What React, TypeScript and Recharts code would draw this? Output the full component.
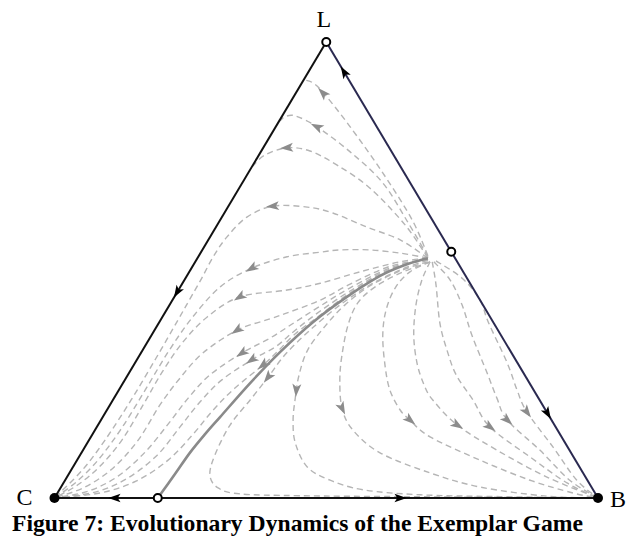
import React from 'react';
import { ComposedChart, Line, Scatter, XAxis, YAxis } from 'recharts';

type Pt = [number, number];
type Dir = [number, number, number, number];

const W = 627;
const H = 537;
const MARGIN = { top: 42, right: 29, bottom: 39, left: 54.5 };
const PX_PER_X = (W - MARGIN.left - MARGIN.right) / 100;
const PX_PER_Y = (H - MARGIN.top - MARGIN.bottom) / 100;

// Simplex in plane coordinates: C bottom-left, B bottom-right, L apex
const cornerC: Pt = [0, 0];
const cornerB: Pt = [100, 0];
const cornerL: Pt = [50, 100];
const restLB: Pt = [73.0, 54.0];
const restCB: Pt = [19.0, 0];
const cornerNames = ['L', 'C', 'B'];

// Boundary edges of the simplex
const edgeLC: Pt[] = [cornerL, cornerC];
const edgeLB: Pt[] = [cornerL, cornerB];
const edgeCB: Pt[] = [cornerC, cornerB];

// Separatrix running into the rest point on C–B
const separatrix: Pt[] = [
  [19.0, 0], [22.2, 5.3], [24.9, 9.9], [27.7, 14.0], [30.5, 17.8], [36.0, 25.2],
  [41.5, 32.0], [47.6, 38.6], [53.8, 44.1], [59.9, 48.7], [64.5, 51.1], [68.7, 52.6],
];

// Orbits flowing towards the L–C edge and then down to C
const orbit1: Pt[] = [[68.7, 53.1], [65.8, 61.0], [60.4, 71.3], [54.4, 81.4], [49.8, 88.4], [47.6, 91.0], [45.9, 91.7]];
const orbit2: Pt[] = [[68.7, 52.9], [65.0, 60.5], [60.4, 69.1], [54.4, 75.9], [48.3, 81.4], [44.3, 83.8], [42.4, 83.6], [41.5, 82.7]];
const orbit3: Pt[] = [[68.7, 52.6], [64.5, 59.9], [58.0, 68.0], [52.0, 73.0], [47.0, 76.1], [42.8, 76.8], [38.7, 75.2], [36.5, 72.8]];
const orbit4: Pt[] = [
  [68.7, 52.6], [63.6, 56.6], [57.5, 59.4], [51.2, 62.5], [46.5, 63.8], [40.2, 64.0], [35.4, 61.6], [31.7, 57.2],
  [29.2, 52.9], [27.0, 48.0], [24.9, 43.6], [22.7, 39.0], [18.7, 30.7], [14.1, 21.5], [9.3, 12.7], [5.1, 6.1], [0, 0],
];
const orbit5: Pt[] = [
  [68.7, 52.6], [63.6, 53.7], [58.0, 54.4], [52.5, 54.4], [48.9, 53.9], [42.8, 52.9], [36.3, 50.4], [30.5, 46.3],
  [25.3, 39.5], [20.9, 32.0], [16.7, 23.7], [12.4, 15.4], [8.0, 8.3], [4.0, 3.5], [0, 0],
];
const orbit6: Pt[] = [
  [68.7, 52.6], [63.6, 51.8], [56.2, 49.6], [48.9, 47.1], [42.8, 45.6], [34.1, 44.1], [28.1, 39.7], [23.5, 34.0],
  [19.8, 27.6], [16.3, 20.4], [12.4, 12.7], [8.4, 7.0], [4.3, 2.9], [0, 0],
];
const orbit7: Pt[] = [
  [68.7, 52.4], [61.7, 50.8], [54.4, 46.9], [48.9, 43.4], [43.3, 40.8], [39.7, 39.3], [33.6, 36.8], [27.3, 31.8],
  [23.1, 26.3], [19.4, 20.4], [15.4, 12.7], [10.8, 6.6], [5.6, 2.4], [0, 0],
];
const orbit8: Pt[] = [
  [68.7, 52.4], [61.7, 50.4], [54.4, 46.1], [48.9, 42.1], [44.3, 38.6], [39.7, 35.1], [34.5, 31.8], [28.6, 27.0],
  [24.6, 21.9], [20.9, 16.2], [16.7, 10.1], [11.7, 4.8], [6.2, 1.5], [0, 0],
];
const orbit9: Pt[] = [
  [68.7, 52.4], [61.7, 50.2], [54.4, 45.4], [48.9, 41.0], [44.3, 36.8], [40.6, 33.1], [36.3, 30.3], [30.8, 25.9],
  [26.8, 21.1], [23.1, 15.6], [18.9, 9.4], [13.5, 4.4], [7.5, 1.3], [0, 0],
];
const orbit10: Pt[] = [
  [68.7, 52.4], [61.7, 50.0], [54.4, 45.0], [48.9, 40.1], [44.3, 36.0], [41.1, 32.2], [38.4, 29.2], [33.2, 24.1],
  [29.2, 19.3], [25.5, 14.0], [20.9, 8.3], [15.0, 3.7], [8.4, 1.1], [0, 0],
];

// Orbits flowing towards B
const orbit11: Pt[] = [
  [68.7, 52.2], [63.6, 50.0], [58.0, 46.7], [52.5, 42.3], [47.0, 36.8], [42.4, 31.4], [39.3, 26.5], [36.0, 21.5],
  [32.3, 16.0], [29.5, 9.4], [28.6, 5.0], [30.1, 2.2], [34.1, 0.9], [45.2, 0.5], [63.6, 0.3], [82.0, 0.15], [100, 0],
];
const orbit12: Pt[] = [
  [68.7, 51.8], [63.6, 49.8], [58.0, 46.5], [53.4, 42.3], [49.8, 37.7], [46.6, 32.5], [45.0, 27.0], [44.3, 21.9],
  [43.9, 17.1], [44.3, 12.1], [46.5, 6.8], [50.7, 3.9], [56.8, 1.8], [67.3, 0.7], [82.0, 0.3], [100, 0],
];
const orbit13: Pt[] = [
  [69.1, 51.8], [63.6, 49.3], [59.0, 46.3], [55.8, 42.8], [54.0, 37.9], [52.9, 31.4], [52.5, 25.9], [52.9, 19.7],
  [54.9, 14.9], [59.9, 9.9], [69.1, 5.5], [78.3, 2.4], [90.6, 0.4], [100, 0],
];
const orbit14: Pt[] = [
  [69.1, 51.8], [65.4, 49.6], [62.7, 46.1], [61.0, 41.2], [60.4, 35.7], [60.8, 29.2], [61.7, 23.7], [63.6, 19.3],
  [65.4, 17.1], [69.1, 13.4], [78.3, 8.3], [87.5, 3.9], [95.4, 1.1], [100, 0],
];
const orbit15: Pt[] = [
  [69.1, 51.8], [67.6, 47.8], [66.5, 42.3], [66.1, 35.7], [66.7, 29.6], [68.0, 24.8], [69.6, 21.5], [74.1, 16.0],
  [81.4, 10.5], [90.6, 4.6], [100, 0],
];
const orbit16: Pt[] = [
  [69.5, 51.8], [70.2, 46.7], [70.9, 38.4], [72.2, 32.5], [73.9, 27.0], [77.0, 21.5], [80.1, 15.6], [87.5, 9.0],
  [94.3, 3.3], [100, 0],
];
const orbit17: Pt[] = [
  [69.8, 51.8], [72.8, 47.8], [75.0, 42.3], [76.8, 35.7], [79.6, 27.4], [81.4, 21.9], [83.3, 17.1], [89.3, 10.5],
  [94.8, 3.9], [100, 0],
];
const orbit18: Pt[] = [
  [70.2, 52.0], [75.0, 48.2], [78.3, 43.4], [79.8, 38.6], [83.3, 29.6], [85.1, 23.7], [86.9, 18.9], [91.7, 11.2],
  [96.1, 3.9], [100, 0],
];

const orbits: Pt[][] = [
  orbit1, orbit2, orbit3, orbit4, orbit5, orbit6, orbit7, orbit8, orbit9,
  orbit10, orbit11, orbit12, orbit13, orbit14, orbit15, orbit16, orbit17, orbit18,
];

// Direction markers: [x, y, towardX, towardY]
const edgeArrows: Dir[] = [
  [53.3, 93.4, 50, 100],
  [90.7, 18.6, 100, 0],
  [22.6, 45.2, 0, 0],
  [11.1, 0, 0, 0],
  [63.6, 0, 100, 0],
];
const flowArrows: Dir[] = [
  [49.4, 88.8, 47.6, 91.0],
  [48.3, 81.4, 44.3, 83.8],
  [42.8, 76.8, 39.5, 76.5],
  [40.2, 64.0, 36.5, 63.6],
  [36.3, 50.4, 30.5, 46.3],
  [34.1, 44.1, 28.1, 39.7],
  [33.6, 36.8, 27.3, 31.8],
  [34.5, 31.8, 28.6, 27.0],
  [36.3, 30.3, 30.8, 25.9],
  [38.4, 29.2, 33.2, 24.1],
  [39.3, 26.5, 36.0, 21.5],
  [44.5, 23.7, 44.2, 19.5],
  [52.9, 19.7, 54.0, 17.0],
  [65.4, 17.1, 69.1, 13.4],
  [74.1, 16.0, 81.4, 10.5],
  [80.1, 15.6, 87.5, 9.0],
  [83.3, 17.1, 89.3, 10.5],
  [86.9, 18.9, 91.7, 11.2],
];

const rows = (pts: Pt[]) => pts.map(([x, y]) => ({ x, y }));
const dirRows = (ds: Dir[]) => ds.map(([x, y, tx, ty]) => ({ x, y, tx, ty }));
const pointRows = (pts: Pt[], names?: string[]) =>
  pts.map(([x, y], i) => ({ x, y, name: names ? names[i] : '' }));

// Catmull–Rom style curve factory: smooth, passes through every point, little overshoot
const smoothCurve = (context: any) => {
  let pts: number[][] = [];
  return {
    areaStart() {},
    areaEnd() {},
    lineStart() {
      pts = [];
    },
    point(x: number, y: number) {
      pts.push([+x, +y]);
    },
    lineEnd() {
      const n = pts.length;
      if (!n) return;
      context.moveTo(pts[0][0], pts[0][1]);
      for (let i = 0; i < n - 1; i++) {
        const p0 = pts[Math.max(0, i - 1)];
        const p1 = pts[i];
        const p2 = pts[i + 1];
        const p3 = pts[Math.min(n - 1, i + 2)];
        context.bezierCurveTo(
          p1[0] + (p2[0] - p0[0]) / 6,
          p1[1] + (p2[1] - p0[1]) / 6,
          p2[0] - (p3[0] - p1[0]) / 6,
          p2[1] - (p3[1] - p1[1]) / 6,
          p2[0],
          p2[1],
        );
      }
    },
  };
};

const SERIF = "'Liberation Serif', 'Times New Roman', serif";

const LABEL_POS: Record<string, { dx: number; dy: number; anchor: 'start' | 'middle' | 'end' }> = {
  L: { dx: -2.5, dy: -15, anchor: 'middle' },
  C: { dx: -22, dy: 7, anchor: 'end' },
  B: { dx: 12, dy: 9, anchor: 'start' },
};

const ArrowHead = (props: any) => {
  const { cx, cy, payload, color, size } = props;
  const ang =
    (Math.atan2(-(payload.ty - payload.y) * PX_PER_Y, (payload.tx - payload.x) * PX_PER_X) * 180) / Math.PI;
  const s = size ?? 1;
  return (
    <path
      d={`M${7 * s},0 L${-6 * s},${-4.5 * s} L${-3 * s},0 L${-6 * s},${4.5 * s} Z`}
      transform={`translate(${cx},${cy}) rotate(${ang})`}
      fill={color}
    />
  );
};

const FilledDot = (props: any) => <circle cx={props.cx} cy={props.cy} r={5} fill="#000" />;
const OpenDot = (props: any) => (
  <circle cx={props.cx} cy={props.cy} r={4} fill="#fff" stroke="#000" strokeWidth={2} />
);
const CornerLabel = (props: any) => {
  const pos = LABEL_POS[props.payload.name];
  return (
    <text
      x={props.cx + pos.dx}
      y={props.cy + pos.dy}
      textAnchor={pos.anchor}
      fontFamily={SERIF}
      fontSize={24}
      fill="#000"
    >
      {props.payload.name}
    </text>
  );
};

export default function App() {
  return (
    <div style={{ position: 'absolute', left: 0, top: 0, width: W, height: H, background: '#fff' }}>
      <ComposedChart width={W} height={H} margin={MARGIN}>
        <XAxis type="number" dataKey="x" domain={[0, 100]} hide />
        <YAxis type="number" dataKey="y" domain={[0, 100]} hide />
        {orbits.map((o, i) => (
          <Line
            key={`orbit-${i}`}
            data={rows(o)}
            dataKey="y"
            type={smoothCurve as any}
            stroke="#b5b5b5"
            strokeWidth={1.4}
            strokeDasharray="6 4"
            dot={false}
            activeDot={false}
            isAnimationActive={false}
          />
        ))}
        <Line
          data={rows(separatrix)}
          dataKey="y"
          type={smoothCurve as any}
          stroke="#8a8a8a"
          strokeWidth={2.6}
          dot={false}
          activeDot={false}
          isAnimationActive={false}
        />
        <Line data={rows(edgeLC)} dataKey="y" type="linear" stroke="#111" strokeWidth={2} dot={false} activeDot={false} isAnimationActive={false} />
        <Line data={rows(edgeLB)} dataKey="y" type="linear" stroke="#2a2950" strokeWidth={2} dot={false} activeDot={false} isAnimationActive={false} />
        <Line data={rows(edgeCB)} dataKey="y" type="linear" stroke="#111" strokeWidth={2} dot={false} activeDot={false} isAnimationActive={false} />
        <Scatter
          data={dirRows(flowArrows)}
          isAnimationActive={false}
          shape={(p: any) => <ArrowHead {...p} color="#8c8c8c" size={1} />}
        />
        <Scatter
          data={dirRows(edgeArrows)}
          isAnimationActive={false}
          shape={(p: any) => <ArrowHead {...p} color="#000" size={0.95} />}
        />
        <Scatter data={pointRows([cornerC, cornerB])} isAnimationActive={false} shape={FilledDot} />
        <Scatter data={pointRows([cornerL, restLB, restCB])} isAnimationActive={false} shape={OpenDot} />
        <Scatter
          data={pointRows([cornerL, cornerC, cornerB], cornerNames)}
          isAnimationActive={false}
          shape={CornerLabel}
        />
      </ComposedChart>
      <svg width={W} height={H} style={{ position: 'absolute', left: 0, top: 0, pointerEvents: 'none' }}>
        <text
          x={12}
          y={531}
          fontFamily={SERIF}
          fontWeight="bold"
          fontSize={23.6}
          textLength={571}
          lengthAdjust="spacingAndGlyphs"
          fill="#000"
        >
          Figure 7: Evolutionary Dynamics of the Exemplar Game
        </text>
      </svg>
    </div>
  );
}
